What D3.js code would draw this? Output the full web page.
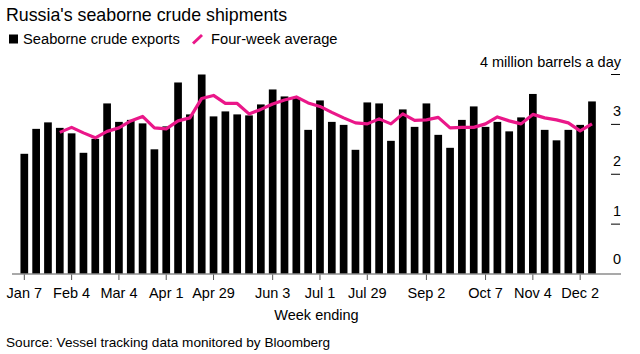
<!DOCTYPE html>
<html>
<head>
<meta charset="utf-8">
<script src="https://cdn.jsdelivr.net/npm/d3@7"></script>
<style>
  html, body { margin: 0; padding: 0; background: #fff; }
  svg { display: block; font-family: "Liberation Sans", Arial, sans-serif; }
</style>
</head>
<body>
<div id="chart"></div>
<script>
// weekly seaborne crude exports, million barrels a day (weeks ending Sundays, from Jan 7)
const exportsMbd = [
  2.41, 2.91, 3.04, 2.93, 2.82, 2.43, 2.71, 3.42, 3.05, 3.09,
  3.02, 2.50, 2.96, 3.84, 3.20, 4.00, 3.16, 3.26, 3.20, 3.18,
  3.40, 3.70, 3.56, 3.54, 2.89, 3.48, 3.05, 2.99, 2.49, 3.44,
  3.42, 2.67, 3.30, 2.95, 3.42, 2.79, 2.53, 3.09, 3.36, 2.95,
  3.05, 2.86, 3.14, 3.61, 2.89, 2.68, 2.89, 2.99, 3.46
];
// four-week average, starts on the 4th week
const avgStart = 3;
const fourWeekAvg = [
  2.84, 2.94, 2.83, 2.73, 2.86, 2.93, 3.07, 3.16, 2.93, 2.91,
  3.07, 3.13, 3.52, 3.58, 3.42, 3.42, 3.21, 3.30, 3.41, 3.49,
  3.55, 3.43, 3.36, 3.24, 3.13, 3.03, 3.01, 3.11, 3.01, 3.21,
  3.08, 3.09, 3.14, 2.93, 2.94, 2.94, 3.01, 3.15, 3.07, 3.01,
  3.20, 3.13, 3.09, 3.03, 2.87, 3.01
];
const tickLabels = ["Jan 7", "Feb 4", "Mar 4", "Apr 1", "Apr 29", "Jun 3", "Jul 1", "Jul 29", "Sep 2", "Oct 7", "Nov 4", "Dec 2"];
const yTicks = [0, 1, 2, 3, 4];

const W = 640, H = 354;
const PINK = "#ea1789";
const fmt = d3.timeFormat("%b %-d");
const firstWeek = new Date(2018, 0, 7);
const weeks = exportsMbd.map((_, i) => fmt(d3.timeDay.offset(firstWeek, 7 * i)));

const svg = d3.select("#chart").append("svg")
  .attr("width", W).attr("height", H)
  .attr("viewBox", `0 0 ${W} ${H}`);

const x = d3.scaleBand().domain(weeks).range([18.4, 597.9]).paddingInner(0.35).paddingOuter(0.175);
const y = d3.scaleLinear().domain([0, 4]).range([274, 74.5]);

// title + legend
svg.append("text").attr("x", 6).attr("y", 21)
  .style("font-size", "17.8px").style("fill", "#000")
  .text("Russia's seaborne crude shipments");

const leg = svg.append("g");
leg.append("rect").attr("x", 9).attr("y", 34.5).attr("width", 9).attr("height", 9).attr("fill", "#000");
leg.append("text").attr("x", 23).attr("y", 44).style("font-size", "14.7px").text("Seaborne crude exports");
leg.append("line").attr("x1", 193).attr("y1", 43.5).attr("x2", 202).attr("y2", 35)
  .attr("stroke", PINK).attr("stroke-width", 3);
leg.append("text").attr("x", 211).attr("y", 44).style("font-size", "14.7px").text("Four-week average");

// y axis (labels sit above short ticks on the right)
const yAxis = svg.append("g").attr("class", "y-axis");
yAxis.selectAll("line").data(yTicks.filter(d => d > 0)).join("line")
  .attr("x1", 611).attr("x2", 620)
  .attr("y1", d => y(d)).attr("y2", d => y(d))
  .attr("stroke", "#000").attr("stroke-width", 1);
yAxis.selectAll("text").data(yTicks).join("text")
  .attr("x", 621).attr("y", d => y(d) - (d === 0 ? 10 : 8))
  .attr("text-anchor", "end")
  .style("font-size", "14.5px")
  .text(d => d === 4 ? "4 million barrels a day" : d);

// bars
svg.append("g").selectAll("rect").data(exportsMbd).join("rect")
  .attr("x", (d, i) => x(weeks[i]))
  .attr("y", d => y(d))
  .attr("width", x.bandwidth())
  .attr("height", d => y(0) - y(d))
  .attr("fill", "#000");

// x axis
const xAxis = d3.axisBottom(x)
  .tickValues(tickLabels)
  .tickSize(6)
  .tickPadding(5);
const gx = svg.append("g").attr("transform", `translate(0,${y(0)})`).call(xAxis);
gx.select(".domain").remove();
gx.append("line").attr("x1", 12).attr("x2", 621).attr("y1", 0).attr("y2", 0)
  .attr("stroke", "#8c8c8c").attr("stroke-width", 1.5);
gx.selectAll(".tick line").attr("stroke", "#555");
gx.selectAll(".tick text")
  .style("font-size", "14.5px").style("font-family", "Liberation Sans, Arial, sans-serif")
  .attr("fill", "#000").attr("y", 14).attr("dy", "0.71em");

// four-week average line
const line = d3.line()
  .x((d, i) => x(weeks[i + avgStart]) + x.bandwidth() / 2)
  .y(d => y(d))
  .curve(d3.curveLinear);
svg.append("path").datum(fourWeekAvg)
  .attr("d", line)
  .attr("fill", "none")
  .attr("stroke", PINK)
  .attr("stroke-width", 3.2)
  .attr("stroke-linejoin", "round");

svg.append("text").attr("x", 316.5).attr("y", 320).attr("text-anchor", "middle")
  .style("font-size", "14.5px").text("Week ending");

svg.append("text").attr("x", 6).attr("y", 346.5)
  .style("font-size", "13.6px")
  .text("Source: Vessel tracking data monitored by Bloomberg");
</script>
</body>
</html>
